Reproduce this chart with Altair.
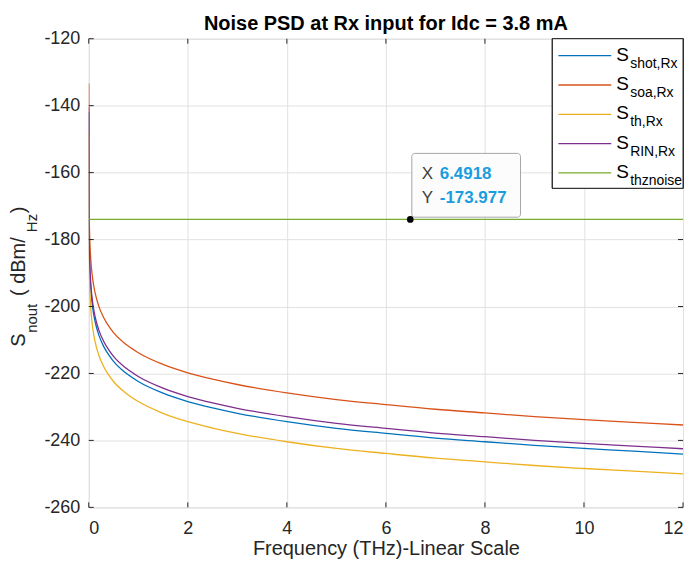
import altair as alt
import pandas as pd

# ---------------- data ----------------
freq = [0, 0.005, 0.01, 0.02, 0.04, 0.07, 0.1, 0.15, 0.2, 0.3, 0.4, 0.5, 0.75, 1,
        1.5, 2, 2.5, 3, 4, 5, 6, 7, 8, 9, 10, 11, 12]
s_shot = [-142.0, -176.4, -182.4, -188.4, -194.4, -199.3, -202.4, -205.9, -208.4, -211.9,
          -214.4, -216.4, -219.9, -222.4, -225.9, -228.4, -230.3, -231.9, -234.4, -236.4,
          -237.9, -239.3, -240.4, -241.5, -242.4, -243.2, -244.1]
s_soa = [-133.4, -167.8, -173.8, -179.8, -185.8, -190.7, -193.8, -197.3, -199.8, -203.3,
         -205.8, -207.8, -211.3, -213.8, -217.3, -219.8, -221.7, -223.3, -225.8, -227.8,
         -229.3, -230.7, -231.8, -232.9, -233.8, -234.6, -235.4]
s_th = [-148.0, -182.4, -188.4, -194.4, -200.4, -205.3, -208.4, -211.9, -214.4, -217.9,
        -220.4, -222.4, -225.9, -228.4, -231.9, -234.4, -236.3, -237.9, -240.4, -242.4,
        -243.9, -245.3, -246.4, -247.5, -248.4, -249.2, -250.0]
s_rin = [-140.5, -174.9, -180.9, -186.9, -192.9, -197.8, -200.9, -204.4, -206.9, -210.4,
         -212.9, -214.9, -218.4, -220.9, -224.4, -226.9, -228.8, -230.4, -232.9, -234.9,
         -236.4, -237.8, -238.9, -240.0, -240.9, -241.7, -242.5]
thz_freq = [0, 12]
s_thz = [-173.977, -173.977]

series_keys = ["shot", "soa", "th", "RIN", "thznoise"]
series_subs = ["shot,Rx", "soa,Rx", "th,Rx", "RIN,Rx", "thznoise"]
series_colors = ["#0072BD", "#D95319", "#EDB120", "#7E2F8E", "#77AC30"]

x_ticks = [0, 2, 4, 6, 8, 10, 12]
y_ticks = [-260, -240, -220, -200, -180, -160, -140, -120]

tip_x = 6.4918
tip_y = -173.977

title_text = "Noise PSD at Rx input for Idc = 3.8 mA"
x_title = "Frequency (THz)-Linear Scale"

# ---------------- tables ----------------
rows = []
for key, vals in zip(["shot", "soa", "th", "RIN"], [s_shot, s_soa, s_th, s_rin]):
    for f, v in zip(freq, vals):
        rows.append({"series": key, "f": f, "v": v})
for f, v in zip(thz_freq, s_thz):
    rows.append({"series": "thznoise", "f": f, "v": v})
df = pd.DataFrame(rows)

# ---------------- layout ----------------
W, H = 596, 470
AX = "#262626"
FONT = "Liberation Sans"
TL = 5  # inward tick length

xscale = alt.Scale(domain=[0, 12], nice=False, zero=False)
yscale = alt.Scale(domain=[-260, -120], nice=False, zero=False)
cscale = alt.Scale(domain=series_keys, range=series_colors)

xaxis = alt.Axis(values=x_ticks, labelExpr="'' + datum.value", title=x_title, domain=False,
                 ticks=False, tickSize=0, labelPadding=12, labelFontSize=18, labelColor=AX,
                 labelFont=FONT, grid=True, gridColor="#e1e1e1", titleFontSize=20,
                 titleFontWeight="normal", titleColor=AX, titleFont=FONT, titlePadding=1)
yaxis = alt.Axis(values=y_ticks, labelExpr="'' + datum.value", title=None, domain=False,
                 ticks=False, tickSize=0, labelPadding=9, labelFontSize=18, labelColor=AX,
                 labelFont=FONT, grid=True, gridColor="#e1e1e1")

lines = alt.Chart(df).mark_line(interpolate="monotone", strokeWidth=1.3, clip=True).encode(
    x=alt.X("f:Q", scale=xscale, axis=xaxis),
    y=alt.Y("v:Q", scale=yscale, axis=yaxis),
    color=alt.Color("series:N", scale=cscale, legend=None),
    detail="series:N",
)

ty = pd.DataFrame({"v": y_ticks})
tx = pd.DataFrame({"f": x_ticks})
left_t = alt.Chart(ty).mark_rule(color=AX, strokeWidth=1).encode(
    y=alt.Y("v:Q", scale=yscale), x=alt.value(0), x2=alt.value(TL))
right_t = alt.Chart(ty).mark_rule(color=AX, strokeWidth=1).encode(
    y=alt.Y("v:Q", scale=yscale), x=alt.value(W - TL), x2=alt.value(W))
bot_t = alt.Chart(tx).mark_rule(color=AX, strokeWidth=1).encode(
    x=alt.X("f:Q", scale=xscale), y=alt.value(H - TL), y2=alt.value(H))
top_t = alt.Chart(tx).mark_rule(color=AX, strokeWidth=1).encode(
    x=alt.X("f:Q", scale=xscale), y=alt.value(0), y2=alt.value(TL))

# data tip
tip_df = pd.DataFrame({"f": [tip_x], "v": [tip_y],
                       "xl": ["X"], "yl": ["Y"],
                       "xv": [f"{tip_x:.4f}"], "yv": [f"{tip_y:.3f}"]})
tip_box = alt.Chart(tip_df).mark_rect(fill="#fcfcfc", stroke="#a6a6a6", strokeWidth=1,
                                      cornerRadius=3).encode(
    x=alt.value(324), x2=alt.value(433), y=alt.value(115), y2=alt.value(179))
tip_xl = alt.Chart(tip_df).mark_text(align="left", baseline="alphabetic", font=FONT,
                                     fontSize=17, color="#404040").encode(
    text="xl:N", x=alt.value(334), y=alt.value(141))
tip_yl = alt.Chart(tip_df).mark_text(align="left", baseline="alphabetic", font=FONT,
                                     fontSize=17, color="#404040").encode(
    text="yl:N", x=alt.value(334), y=alt.value(165))
tip_xv = alt.Chart(tip_df).mark_text(align="left", baseline="alphabetic", font=FONT,
                                     fontSize=17, fontWeight="bold", color="#1a9de0").encode(
    text="xv:N", x=alt.value(352), y=alt.value(141))
tip_yv = alt.Chart(tip_df).mark_text(align="left", baseline="alphabetic", font=FONT,
                                     fontSize=17, fontWeight="bold", color="#1a9de0").encode(
    text="yv:N", x=alt.value(352), y=alt.value(165))
tip_dot = alt.Chart(tip_df).mark_point(filled=True, size=45, color="black", opacity=1).encode(
    x=alt.X("f:Q", scale=xscale), y=alt.Y("v:Q", scale=yscale))

main = alt.layer(lines, left_t, right_t, bot_t, top_t,
                 tip_box, tip_xl, tip_yl, tip_xv, tip_yv, tip_dot)

# ---------------- legend, title, y title (pixel-placed annotations) ----------------
row0, dy = 17, 29.4
leg = pd.DataFrame({
    "series": series_keys,
    "sub": series_subs,
    "ly": [row0 + dy * i for i in range(len(series_keys))],
})
leg["sy"] = leg["ly"] + 5
leg["uy"] = leg["ly"] + 12
leg["x0"] = 471
leg["x1"] = 524
leg["sx"] = 529
leg["ux"] = 543
leg["S"] = "S"

PX = dict(scale=None, axis=None)
leg_box = alt.Chart(leg).mark_rect(fill="white", stroke=AX, strokeWidth=1).encode(
    x=alt.value(465), x2=alt.value(W), y=alt.value(0), y2=alt.value(150))
leg_lines = alt.Chart(leg).mark_rule(strokeWidth=1.3).encode(
    x=alt.X("x0:Q", **PX), x2="x1:Q", y=alt.Y("ly:Q", **PX),
    color=alt.Color("series:N", scale=cscale, legend=None))
leg_S = alt.Chart(leg).mark_text(align="left", baseline="alphabetic", font=FONT,
                                 fontSize=19, color="black").encode(
    x=alt.X("sx:Q", **PX), y=alt.Y("sy:Q", **PX), text="S:N")
leg_sub = alt.Chart(leg).mark_text(align="left", baseline="alphabetic", font=FONT,
                                   fontSize=14, color="black").encode(
    x=alt.X("ux:Q", **PX), y=alt.Y("uy:Q", **PX), text="sub:N")

ylab = pd.DataFrame({
    "t": ["S", "nout", "( dBm/", "Hz", ")"],
    "fs": [20, 15, 20, 15, 20],
    "px": [-64, -52, -64, -52, -64],
    "py": [309, 295, 258, 194, 175],
})
ylab_text = alt.Chart(ylab).mark_text(align="left", baseline="alphabetic", angle=270,
                                      font=FONT, color=AX).encode(
    x=alt.X("px:Q", **PX), y=alt.Y("py:Q", **PX), text="t:N",
    size=alt.Size("fs:Q", scale=None, legend=None))

title_df = pd.DataFrame({"t": [title_text]})
title_mark = alt.Chart(title_df).mark_text(align="center", baseline="alphabetic", font=FONT,
                                           fontSize=20, fontWeight="bold", color="black").encode(
    text="t:N", x=alt.value(W / 2), y=alt.value(-9))

annot = alt.layer(leg_box, leg_lines, leg_S, leg_sub, ylab_text, title_mark)

chart = alt.layer(main, annot).resolve_scale(x="independent", y="independent").properties(
    width=W, height=H,
    autosize=alt.AutoSizeParams(type="none"),
    padding={"left": 81, "top": 30, "right": 8, "bottom": 53},
).configure_view(stroke=AX, strokeWidth=1).configure(background="white")

chart.save("out.html", embed_options={"renderer": "svg", "actions": False})
